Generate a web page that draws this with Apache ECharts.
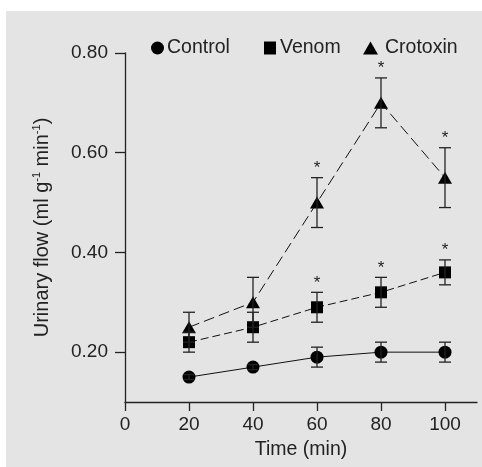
<!DOCTYPE html>
<html>
<head>
<meta charset="utf-8">
<script src="https://cdn.jsdelivr.net/npm/echarts@6/dist/echarts.min.js"></script>
<style>
  html, body { margin: 0; padding: 0; background: #fff; }
  #chart { width: 482px; height: 467px; }
</style>
</head>
<body>
<div id="chart"></div>
<script>
// time points (min)
var times = [20, 40, 60, 80, 100];
// urinary flow means and error (SEM)
var control = [0.15, 0.17, 0.19, 0.20, 0.20];
var controlErr = [0.005, 0.005, 0.02, 0.02, 0.02];
var venom = [0.22, 0.25, 0.29, 0.32, 0.36];
var venomErr = [0.02, 0.03, 0.03, 0.03, 0.025];
var crotoxin = [0.25, 0.30, 0.50, 0.70, 0.55];
var crotoxinErr = [0.03, 0.05, 0.05, 0.05, 0.06];
// significance markers (*)
var controlSig = [0, 0, 0, 0, 0];
var venomSig = [0, 0, 1, 1, 1];
var crotoxinSig = [0, 0, 1, 1, 1];
var xTicks = [0, 20, 40, 60, 80, 100];
var yTicks = [0.2, 0.4, 0.6, 0.8];

var FONT = 'Liberation Sans';
var INK = '#222';

function pts(vals) {
    return times.map(function (t, i) { return [t, vals[i]]; });
}
function errPts(vals, err, sig) {
    return times.map(function (t, i) {
        return [t, vals[i] - err[i], vals[i] + err[i], sig[i]];
    });
}

function renderErr(params, api) {
    var x = api.value(0);
    var pHi = api.coord([x, api.value(2)]);
    var pLo = api.coord([x, api.value(1)]);
    var w = 6;
    var st = { stroke: INK, lineWidth: 1.3 };
    var kids = [
        { type: 'line', shape: { x1: pHi[0], y1: pHi[1], x2: pLo[0], y2: pLo[1] }, style: st },
        { type: 'line', shape: { x1: pHi[0] - w, y1: pHi[1], x2: pHi[0] + w, y2: pHi[1] }, style: st },
        { type: 'line', shape: { x1: pLo[0] - w, y1: pLo[1], x2: pLo[0] + w, y2: pLo[1] }, style: st }
    ];
    if (api.value(3)) {
        kids.push({
            type: 'text',
            style: {
                text: '*', x: pHi[0], y: pHi[1] - 1,
                align: 'center', verticalAlign: 'bottom',
                font: '17px ' + FONT, fill: INK
            }
        });
    }
    return { type: 'group', children: kids };
}

function lineSeries(name, vals, symbol, size, lineType) {
    return {
        name: name,
        type: 'line',
        data: pts(vals),
        symbol: symbol,
        symbolSize: size,
        z: 3,
        itemStyle: { color: '#000' },
        lineStyle: { color: '#111', width: 1, type: lineType },
        animation: false
    };
}
function errSeries(vals, err, sig) {
    return {
        type: 'custom',
        renderItem: renderErr,
        data: errPts(vals, err, sig),
        encode: { x: 0, y: [1, 2] },
        z: 4,
        silent: true,
        animation: false
    };
}
function legendItem(name, icon, left, w, pad) {
    return {
        data: [{ name: name, icon: icon }],
        left: left,
        top: 33,
        itemWidth: w,
        itemHeight: 13,
        itemGap: 0,
        textStyle: { fontFamily: FONT, fontSize: 19.5, color: INK, padding: [0, 0, 0, pad] },
        selectedMode: false
    };
}

var chart = echarts.init(document.getElementById('chart'));
chart.setOption({
    backgroundColor: '#fff',
    animation: false,
    graphic: [{
        type: 'rect',
        shape: { x: 6, y: 11, width: 476, height: 456 },
        style: { fill: '#e4e4e4' },
        z: -10,
        silent: true
    }],
    legend: [
        legendItem('Control', 'circle', 146, 13, -2),
        legendItem('Venom', 'rect', 259, 12, -1),
        legendItem('Crotoxin', 'triangle', 358, 15, 2)
    ],
    grid: { left: 125, right: 5, top: 53, bottom: 65 },
    xAxis: {
        type: 'value',
        min: 0,
        max: 110,
        splitLine: { show: false },
        axisLine: { lineStyle: { color: INK, width: 1.3 } },
        axisTick: { customValues: xTicks, length: 9, lineStyle: { color: INK, width: 1.3 } },
        axisLabel: { customValues: xTicks, margin: 13, fontFamily: FONT, fontSize: 19, color: INK },
        name: 'Time (min)',
        nameLocation: 'middle',
        nameGap: 38,
        nameTextStyle: { fontFamily: FONT, fontSize: 19.5, color: INK }
    },
    yAxis: {
        type: 'value',
        min: 0.1,
        max: 0.8,
        splitLine: { show: false },
        axisLine: { show: true, lineStyle: { color: INK, width: 1.3 } },
        axisTick: { show: true, customValues: yTicks, length: 10, lineStyle: { color: INK, width: 1.3 } },
        axisLabel: {
            customValues: yTicks, margin: 17, fontFamily: FONT, fontSize: 19, color: INK,
            formatter: function (v) { return v.toFixed(2); }
        },
        name: '{a|Urinary flow (ml g}{s|-1}{a| min}{s|-1}{a|)}',
        nameLocation: 'middle',
        nameGap: 72,
        nameTextStyle: {
            rich: {
                a: { fontFamily: FONT, fontSize: 20, color: INK, lineHeight: 22 },
                s: { fontFamily: FONT, fontSize: 11, color: INK, verticalAlign: 'top', lineHeight: 22 }
            }
        }
    },
    series: [
        lineSeries('Control', control, 'circle', 13, 'solid'),
        lineSeries('Venom', venom, 'rect', 12, [8, 4]),
        lineSeries('Crotoxin', crotoxin, 'triangle', [14, 12], [11, 5]),
        errSeries(control, controlErr, controlSig),
        errSeries(venom, venomErr, venomSig),
        errSeries(crotoxin, crotoxinErr, crotoxinSig)
    ]
});
</script>
</body>
</html>
